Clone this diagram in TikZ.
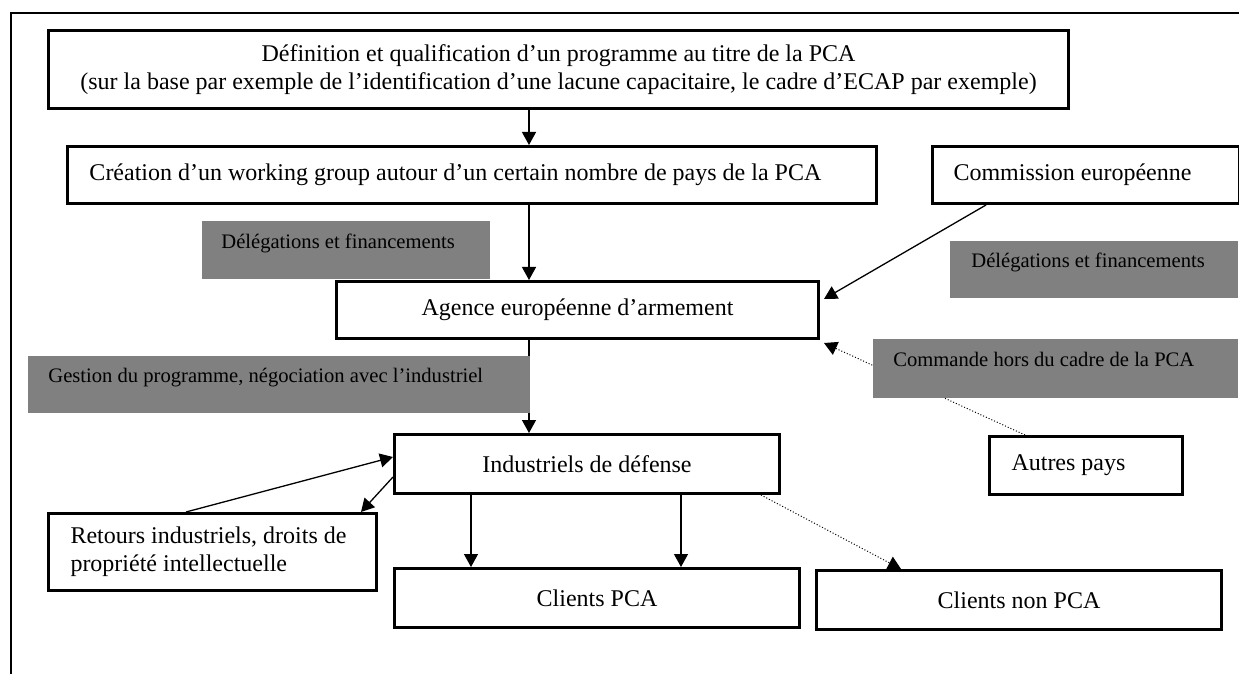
\documentclass[tikz,border=0pt]{standalone}
\usepackage{fontspec}
\setmainfont{Liberation Serif}
\usetikzlibrary{arrows.meta,calc}
\definecolor{grisfond}{RGB}{128,128,128}

\begin{document}
\begin{tikzpicture}[x=0.5pt,y=-0.5pt]
            \tikzstyle{boite}=[draw=black,line width=1.5pt,anchor=north west,inner sep=0pt,font=\fontsize{12}{13.8}\selectfont]
            \tikzstyle{gauche}=[align=flush left,inner xsep=11pt]
            \tikzstyle{gris}=[fill=grisfond,anchor=north west,inner ysep=0pt,align=flush left,font=\fontsize{10.3}{12}\selectfont,text height=7pt,text depth=9pt]
            \tikzstyle{fleche}=[line width=0.65pt,-{Triangle[length=6.5pt,width=7pt]}]
            \tikzstyle{pointille}=[line width=0.5pt,densely dotted,-{Triangle[length=6.5pt,width=7pt]}]
    \useasboundingbox (0,0) rectangle (1239,674);
    \draw[line width=0.75pt] (11,674) -- (11,13) -- (1239,13);
    \coordinate (axe) at (529,0);

    \node[boite,minimum width=510pt,minimum height=39pt,align=center] (defin) at (47,29)
      {Définition et qualification d’un programme au titre de la PCA\\(sur la base par exemple de l’identification d’une lacune capacitaire, le cadre d’ECAP par exemple)};
    \node[boite,gauche,text width=382.5pt,minimum height=28.5pt] (wg) at (66,145)
      {Création d’un working group autour d’un certain nombre de pays de la PCA};
    \node[boite,gauche,inner xsep=10.5pt,text width=132.25pt,minimum height=28.5pt] (commission) at (931,145)
      {Commission européenne};
    \node[boite,minimum width=241pt,minimum height=28.5pt] (agence) at (335,280)
      {Agence européenne d’armement};
    \node[boite,minimum width=192.5pt,minimum height=29.5pt] (industriels) at (393,433)
      {Industriels de défense};
    \node[boite,gauche,text width=74.5pt,minimum height=29pt] (autres) at (988,435)
      {Autres pays};
    \node[boite,gauche,text width=142pt,minimum height=38.5pt] (retours) at (47,512)
      {Retours industriels, droits de\\propriété intellectuelle};
    \node[boite,minimum width=202.5pt,minimum height=29.5pt] (clientspca) at (393,567)
      {Clients PCA};
    \node[boite,minimum width=202.5pt,minimum height=29.5pt] (clientsnon) at (815,569)
      {Clients non PCA};

    \draw[fleche] (defin.south -| axe) -- (wg.north -| axe);
    \draw[fleche] (wg.south -| axe) -- (agence.north -| axe);
    \draw[fleche] ($(commission.south west)+(55,0)$) -- ($(agence.east)+(4,-11)$);
    \draw[fleche] (agence.south -| axe) -- (industriels.north -| axe);
    \draw[pointille] ($(autres.north west)+(37,0)$) -- ($(agence.south east)+(4,3)$);
    \draw[fleche] ($(retours.north west)+(139,0)$) -- ($(industriels.west)+(0,-7)$);
    \draw[fleche] ($(industriels.west)+(0,13)$) -- ($(retours.north east)+(-17,0)$);
    \draw[fleche] ($(industriels.south west)+(78,0)$) -- ($(clientspca.north west)+(78,0)$);
    \draw[fleche] ($(industriels.south west)+(288,0)$) -- ($(clientspca.north west)+(288,0)$);
    \draw[pointille] ($(industriels.south east)+(-20,0)$) -- ($(clientsnon.north west)+(86,0)$);

    \node[gris,inner xsep=9.5pt,text width=125pt,minimum height=29pt] (deleg1) at (202,221)
      {Délégations et financements};
    \node[gris,inner xsep=10.5pt,text width=123pt,minimum height=28.5pt] (deleg2) at (950,241)
      {Délégations et financements};
    \node[gris,inner xsep=10pt,text width=231pt,minimum height=28.5pt] (gestion) at (28,356)
      {Gestion du programme, négociation avec l’industriel};
    \node[gris,inner xsep=10pt,text width=162.5pt,minimum height=29.5pt] (commande) at (873,339)
      {Commande hors du cadre de la PCA};
\end{tikzpicture}
\end{document}
